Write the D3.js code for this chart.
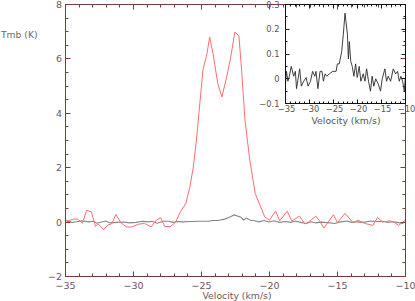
<!DOCTYPE html>
<html><head><meta charset="utf-8">
<script src="https://cdn.jsdelivr.net/npm/d3@7"></script>
<style>
html,body{margin:0;padding:0;background:#fff;}
svg{display:block;}
text{font-family:"DejaVu Sans",sans-serif;}
</style></head>
<body><svg id="c" width="415" height="301"></svg>
<script>
// Main spectrum (red), Tmb (K)
const mainVel = [-35.0,-34.8,-34.4,-34.1,-33.75,-33.45,-33.1,-32.8,-32.6,-32.2,-31.9,-31.6,-31.3,-30.9,-30.5,-30.15,-29.65,-29.2,-28.7,-28.3,-28.0,-27.7,-27.3,-26.9,-26.55,-26.15,-25.85,-25.6,-25.35,-25.1,-24.9,-24.6,-24.4,-24.15,-23.8,-23.5,-23.15,-22.85,-22.55,-22.25,-22.05,-21.8,-21.45,-21.05,-20.7,-20.35,-20.0,-19.55,-19.25,-18.7,-18.35,-17.8,-17.4,-17.05,-16.6,-16.3,-16.0,-15.3,-15.0,-14.45,-13.85,-13.5,-13.0,-12.4,-12.05,-11.7,-11.15,-10.8,-10.5,-10.0];
const mainTmb = [0.07,0.05,0.11,0.11,-0.04,0.43,0.38,-0.16,-0.06,-0.28,-0.11,-0.06,0.28,-0.04,-0.18,-0.18,-0.08,-0.04,-0.18,0.08,0.16,-0.16,-0.17,0.0,0.38,0.69,1.3,2.03,3.13,4.48,5.58,6.19,6.8,6.19,5.09,4.6,5.33,6.07,6.98,6.86,5.58,3.74,2.28,1.05,0.62,0.19,0.07,0.41,0.05,0.4,0.04,0.22,-0.07,0.03,0.22,0.03,-0.22,0.27,-0.02,0.32,-0.02,0.07,-0.05,-0.12,0.17,0.0,0.05,-0.02,-0.12,0.07];
// Weak spectrum (grey in main, black in inset)
const weakVel = [-35.0,-34.8,-34.5,-34.2,-33.8,-33.3,-32.95,-32.7,-32.05,-31.7,-31.2,-30.7,-30.3,-29.8,-29.35,-28.9,-28.65,-28.25,-27.8,-27.4,-27.1,-26.75,-26.4,-25.85,-25.15,-24.45,-24.2,-23.8,-23.3,-22.95,-22.6,-22.1,-21.9,-21.7,-21.4,-21.1,-20.75,-20.4,-20.05,-19.65,-19.3,-18.8,-18.45,-18.1,-17.7,-17.3,-16.95,-16.6,-16.2,-15.7,-15.2,-14.85,-14.3,-13.95,-13.6,-13.1,-12.55,-12.05,-11.65,-11.3,-10.95,-10.6,-10.25,-10.05];
const weakTmb = [-0.02,0.03,-0.01,0.01,0.05,0.01,0.03,-0.04,0.04,-0.03,-0.01,0.005,-0.03,-0.01,0.03,0.01,0.03,-0.04,0.03,0.03,-0.01,0.02,0.01,0.02,0.03,0.03,0.06,0.06,0.11,0.18,0.265,0.18,0.08,0.15,0.07,0.05,0.01,0.06,0.005,0.05,-0.01,0.02,-0.01,0.04,-0.01,-0.05,0.01,-0.03,0.0,-0.02,-0.05,0.0,0.04,-0.01,0.01,-0.01,0.04,0.02,0.03,-0.01,0.01,-0.01,-0.05,0.0];
const mainXTicks = [-35,-30,-25,-20,-15,-10];
const mainYTicks = [-2,0,2,4,6,8];
const insetXTicks = [-35,-30,-25,-20,-15,-10];
const insetYTicks = [-0.1,0,0.1,0.2,0.3];

const svg = d3.select("#c");
const axisCol = "#7d3a3a", labCol = "#6e5656";
const fmt = v => (v<0 ? "\u2212"+Math.abs(v) : String(v));
const snap = p => Math.round(p-0.5)+0.5;

// ---------- main plot ----------
const mx = d3.scaleLinear().domain([-35,-10]).range([65.5,405.5]);
const my = d3.scaleLinear().domain([-2,8]).range([276.5,4.5]);
const minorX = d3.range(-35,-9.99,1);
const minorY = d3.range(-2,8.01,0.5);

function frame(g, x, y, majX, majY, minX, minY, col, majLen, minLen){
  const [x0,x1] = x.range(), [y0,y1] = y.range();
  g.append("rect").attr("x",x0).attr("y",y1).attr("width",x1-x0).attr("height",y0-y1)
   .attr("fill","none").attr("stroke",col).attr("stroke-width",1);
  const tk = (arr, len, isX) => arr.forEach(v=>{
    if(isX){
      const p = snap(x(v));
      g.append("line").attr("x1",p).attr("x2",p).attr("y1",y0).attr("y2",y0-len).attr("stroke",col);
      g.append("line").attr("x1",p).attr("x2",p).attr("y1",y1).attr("y2",y1+len).attr("stroke",col);
    } else {
      const p = snap(y(v));
      g.append("line").attr("x1",x0).attr("x2",x0+len).attr("y1",p).attr("y2",p).attr("stroke",col);
      g.append("line").attr("x1",x1).attr("x2",x1-len).attr("y1",p).attr("y2",p).attr("stroke",col);
    }
  });
  tk(minX, minLen, true); tk(majX, majLen, true);
  tk(minY, minLen, false); tk(majY, majLen, false);
}

const gm = svg.append("g");
const line = (x,y) => d3.line().x(d=>x(d[0])).y(d=>y(d[1]));
gm.append("path").datum(weakVel.map((v,i)=>[v,weakTmb[i]]))
  .attr("d", line(mx,my)).attr("fill","none").attr("stroke","#858585").attr("stroke-width",1.1);
gm.append("path").datum(mainVel.map((v,i)=>[v,mainTmb[i]]))
  .attr("d", line(mx,my)).attr("fill","none").attr("stroke","#ff6e6e").attr("stroke-width",1);
frame(gm, mx, my, mainXTicks, mainYTicks, minorX, minorY, axisCol, 5, 3);

gm.selectAll(".xl").data(mainXTicks).enter().append("text")
  .attr("x",d=>mx(d)).attr("y",289).attr("text-anchor","middle")
  .attr("font-size",9.5).attr("fill",labCol).text(fmt);
gm.selectAll(".yl").data(mainYTicks).enter().append("text")
  .attr("x",62).attr("y",d=>my(d)+3.5).attr("text-anchor","end")
  .attr("font-size",9.5).attr("fill",labCol).text(fmt);
gm.append("text").attr("x",237).attr("y",298.5).attr("text-anchor","middle")
  .attr("font-size",9.3).attr("fill",labCol).text("Velocity (km/s)");
gm.append("text").attr("x",1).attr("y",37.5).attr("font-size",9.2)
  .attr("fill","#6a6a6a").text("Tmb (K)");

// ---------- inset ----------
const ix = d3.scaleLinear().domain([-35,-10]).range([285.5,405.5]);
const iy = d3.scaleLinear().domain([-0.1,0.3]).range([103.5,4.5]);
const gi = svg.append("g");
gi.append("path").datum(weakVel.map((v,i)=>[v,weakTmb[i]]))
  .attr("d", line(ix,iy)).attr("fill","none").attr("stroke","#2a2a2a").attr("stroke-width",0.9);
frame(gi, ix, iy, insetXTicks, insetYTicks, d3.range(-35,-9.99,1), d3.range(-0.1,0.301,0.05), "#111", 4, 2);
gi.selectAll(".xl").data(insetXTicks).enter().append("text")
  .attr("x",d=>ix(d)+1).attr("y",112).attr("text-anchor","middle")
  .attr("font-family","Liberation Sans").attr("font-size",8.3).attr("fill","#555").text(fmt);
gi.selectAll(".yl").data(insetYTicks).enter().append("text")
  .attr("x",279.5).attr("y",d=>iy(d)+3).attr("text-anchor","end")
  .attr("font-family","Liberation Sans").attr("font-size",8.3).attr("fill","#555").text(fmt);
gi.append("text").attr("x",346).attr("y",123.5).attr("text-anchor","middle")
  .attr("font-family","Liberation Sans").attr("font-size",9.3).attr("fill","#555").text("Velocity (km/s)");
</script></body></html>
